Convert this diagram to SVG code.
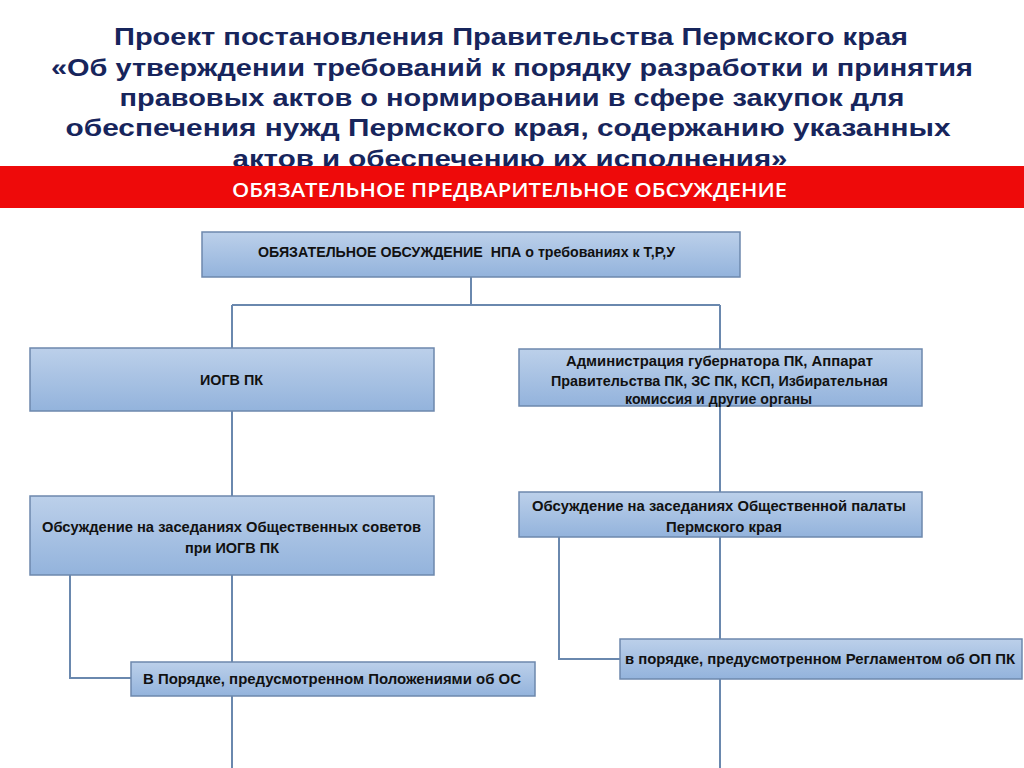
<svg xmlns="http://www.w3.org/2000/svg" width="1024" height="768" viewBox="0 0 1024 768">
<defs>
<linearGradient id="boxFill" x1="0" y1="0" x2="0" y2="1">
<stop offset="0" stop-color="#bcd0ea"/>
<stop offset="1" stop-color="#93b3dc"/>
</linearGradient>
<style>
.title{font-family:"Liberation Sans Narrow","Liberation Sans",Arial,sans-serif;font-weight:bold;font-size:24px;fill:#17255c;text-anchor:middle}
.banner{font-family:"Open Sans","Liberation Sans",sans-serif;font-weight:600;font-size:19px;fill:#ffffff}
.box{fill:url(#boxFill);stroke:#6d88ad;stroke-width:1.5}
.lbl{font-family:"Liberation Sans",Arial,sans-serif;font-weight:bold;font-size:14.5px;fill:#111111;white-space:pre}
.conn{fill:none;stroke:#6a88ae;stroke-width:2}
</style>
</defs>
<rect width="1024" height="768" fill="#ffffff"/>
<g id="title">
<text class="title" x="511" y="45" textLength="794" lengthAdjust="spacingAndGlyphs">Проект постановления Правительства Пермского края</text>
<text class="title" x="512" y="76" textLength="922" lengthAdjust="spacingAndGlyphs">«Об утверждении требований к порядку разработки и принятия</text>
<text class="title" x="512" y="106" textLength="785" lengthAdjust="spacingAndGlyphs">правовых актов о нормировании в сфере закупок для</text>
<text class="title" x="508" y="136" textLength="885" lengthAdjust="spacingAndGlyphs">обеспечения нужд Пермского края, содержанию указанных</text>
<text class="title" x="510" y="167" textLength="555" lengthAdjust="spacingAndGlyphs">актов и обеспечению их исполнения»</text>
</g>
<g id="banner">
<rect x="0" y="166" width="1024" height="42" fill="#ee0a0a"/>
<text class="banner" x="232" y="197" textLength="555" lengthAdjust="spacingAndGlyphs">ОБЯЗАТЕЛЬНОЕ ПРЕДВАРИТЕЛЬНОЕ ОБСУЖДЕНИЕ</text>
</g>
<g id="connectors">
<path class="conn" d="M471 277V305M232 305H720M232 305V348M720 305V349"/>
<path class="conn" d="M232 411V496M720 406V492"/>
<path class="conn" d="M232 575V662M70 575V678H131M232 696V768"/>
<path class="conn" d="M720 537V639M559 537V659H620M720 679V768"/>
</g>
<g id="node-top">
<rect class="box" x="202" y="232" width="538" height="45"/>
<text class="lbl" x="258" y="257" textLength="417" lengthAdjust="spacingAndGlyphs" xml:space="preserve">ОБЯЗАТЕЛЬНОЕ ОБСУЖДЕНИЕ  НПА о требованиях к Т,Р,У</text>
</g>
<g id="node-iogv">
<rect class="box" x="30" y="348" width="404" height="63"/>
<text class="lbl" x="200" y="385" textLength="63" lengthAdjust="spacingAndGlyphs">ИОГВ ПК</text>
</g>
<g id="node-admin">
<rect class="box" x="519" y="349" width="403" height="57"/>
<text class="lbl" x="566" y="366" textLength="307" lengthAdjust="spacingAndGlyphs">Администрация губернатора ПК, Аппарат</text>
<text class="lbl" x="551" y="386" textLength="337" lengthAdjust="spacingAndGlyphs">Правительства ПК, ЗС ПК, КСП, Избирательная</text>
<text class="lbl" x="625" y="404" textLength="187" lengthAdjust="spacingAndGlyphs">комиссия и другие органы</text>
</g>
<g id="node-councils">
<rect class="box" x="30" y="496" width="404" height="79"/>
<text class="lbl" x="42" y="532" textLength="379" lengthAdjust="spacingAndGlyphs">Обсуждение на заседаниях Общественных советов</text>
<text class="lbl" x="185" y="553" textLength="94" lengthAdjust="spacingAndGlyphs">при ИОГВ ПК</text>
</g>
<g id="node-chamber">
<rect class="box" x="519" y="492" width="403" height="45"/>
<text class="lbl" x="532" y="511" textLength="374" lengthAdjust="spacingAndGlyphs">Обсуждение на заседаниях Общественной палаты</text>
<text class="lbl" x="666" y="532" textLength="116" lengthAdjust="spacingAndGlyphs">Пермского края</text>
</g>
<g id="node-os">
<rect class="box" x="131" y="662" width="404" height="34"/>
<text class="lbl" x="143" y="684" textLength="378" lengthAdjust="spacingAndGlyphs">В Порядке, предусмотренном Положениями об ОС</text>
</g>
<g id="node-op">
<rect class="box" x="620" y="639" width="402" height="40"/>
<text class="lbl" x="625" y="664" textLength="390" lengthAdjust="spacingAndGlyphs">в порядке, предусмотренном Регламентом об ОП ПК</text>
</g>
</svg>
